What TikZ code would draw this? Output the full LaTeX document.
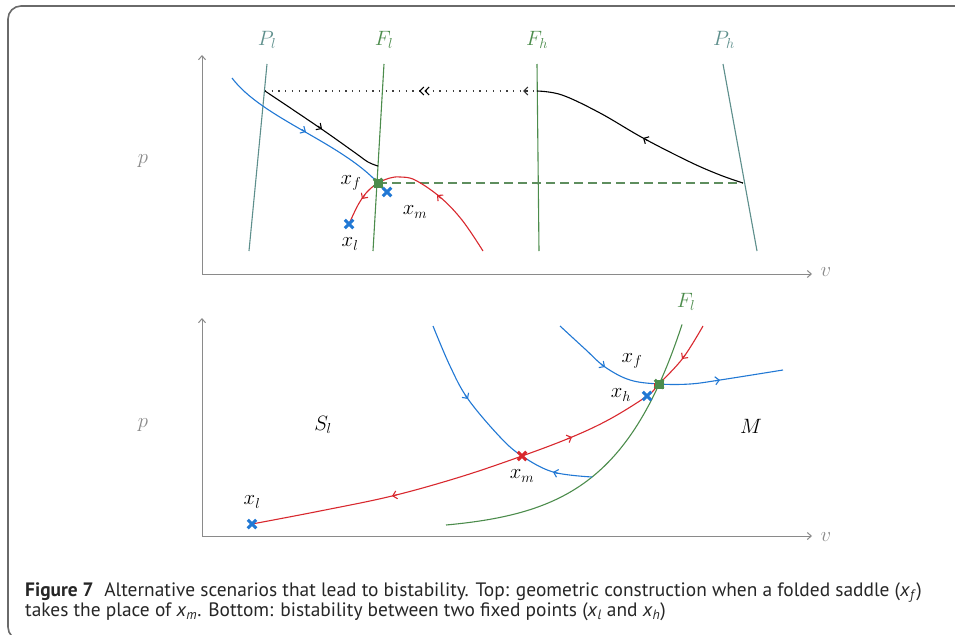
\documentclass[tikz,border=0pt]{standalone}
\usepackage{fontspec}
\setsansfont{PT Sans}
\usetikzlibrary{arrows.meta,shapes.misc}
\definecolor{cblue}{HTML}{2178D4}
\definecolor{cred}{HTML}{D8282E}
\definecolor{cgreen}{HTML}{4C8C4C}
\definecolor{cdash}{HTML}{5E8E5E}
\definecolor{cteal}{HTML}{5E8F8C}
\definecolor{caxis}{HTML}{8A8A8A}
\definecolor{cframe}{HTML}{6A6A6A}
\newcommand\flowtip[3]{\draw[line width=1.1pt, #1, -{Straight Barb[length=4pt,width=8pt]}] (#2) ++(#3+180:5) -- ++(#3:5);}
\newcommand\flowtipdd[3]{\draw[line width=1.1pt, #1, -{Straight Barb[length=4pt,width=8pt] Straight Barb[length=4pt,width=8pt]}] (#2) ++(#3+180:0.5) -- ++(#3:0.5);}
\tikzset{
  axisline/.style={draw=caxis, line width=1pt, -{Straight Barb[length=4pt,width=7pt]}},
  curve/.style={line width=1.1pt},
  vline/.style={line width=1.1pt},
  lab/.style={font=\huge, inner sep=0pt},
  glab/.style={lab, text=caxis},
  xmk/.style={cross out, draw=#1, line width=3pt, minimum size=5.5pt, inner sep=0pt},
  fmk/.style={rectangle, fill=cgreen, minimum size=9pt, inner sep=0pt},
  captxt/.style={font=\sffamily\fontsize{19.4}{22}\selectfont, inner sep=0pt, text=black!85},
}
\begin{document}
\begin{tikzpicture}[x=1pt,y=-1pt]
\useasboundingbox (0,0) rectangle (955,634);
\begin{scope}
\clip (0,0) rectangle (955,634);
\draw[cframe, line width=1.6pt, rounded corners=13pt] (8,640) rectangle (975,6);
\end{scope}

% ---------------- top panel ----------------
\coordinate (ta0) at (202,274);
\coordinate (tay) at (202,55);
\coordinate (tax) at (812,274);
\draw[axisline] (ta0) -- (tay);
\draw[axisline] (ta0) -- (tax);
\node[glab] (tp) at (143,161) {$p$};
\node[glab] (tv) at (826,272) {$v$};

\coordinate (Plt) at (267,64); \coordinate (Plb) at (249,251);
\coordinate (Flt) at (384,64); \coordinate (Flb) at (373,251);
\coordinate (Fht) at (537,64); \coordinate (Fhb) at (539,251);
\coordinate (Pht) at (723,64); \coordinate (Phb) at (757,251);
\draw[vline, cteal] (Plt) -- (Plb);
\draw[vline, cgreen] (Flt) -- (Flb);
\draw[vline, cgreen] (Fht) -- (Fhb);
\draw[vline, cteal] (Pht) -- (Phb);
\node[lab, text=cteal] (Pl) at (267,40) {$P_l$};
\node[lab, text=cgreen] (Fl) at (384,40) {$F_l$};
\node[lab, text=cgreen] (Fh) at (537,40) {$F_h$};
\node[lab, text=cteal] (Ph) at (724,40) {$P_h$};

\coordinate (A) at (265,91);
\coordinate (B) at (537,91);
\coordinate (C) at (743,183);
\coordinate (XF) at (378,183);
\coordinate (BS) at (232,78);
\coordinate (XMt) at (387,192);

\draw[black!75, line width=1.3pt, dash pattern=on 1.3pt off 5.4pt] (A) -- (B);
\flowtipdd{black}{419,91}{180}
\flowtip{black!80}{523,91}{180}
\draw[line width=1.1pt, cdash, dash pattern=on 9pt off 5pt] (XF) -- (C);
\draw[curve, black] plot[smooth, tension=0.6] coordinates {(537,91) (562,95) (600,113) (643,138) (690,162) (720,175) (743,183)};
\flowtip{black}{643,138}{208.6}
\draw[curve, black] plot[smooth, tension=0.6] coordinates {(265,91) (320,128) (354,152) (368,162) (378,166)};
\flowtip{black}{322,129}{34}
\draw[curve, cblue] (BS) .. controls (262,118) and (340,142) .. (XF) -- (383,189) -- (XMt);
\flowtip{cblue}{306,132}{30}
\draw[curve, cred] plot[smooth, tension=0.6] coordinates {(349,224) (358,205) (367,192) (378,183) (390,178) (400,177) (415,180) (440,197) (462,220) (483,251)};
\flowtip{cred}{362,199}{124.7}
\flowtip{cred}{437,195}{220.4}

\node[xmk=cblue] (txl) at (349,224) {};
\node[xmk=cblue] (txm) at (XMt) {};
\node[fmk] (txfs) at (XF) {};
\node[xmk=cgreen] (txf) at (XF) {};
\node[lab] (lxf) at (351,183) {$x_f$};
\node[lab] (lxm) at (415,212) {$x_m$};
\node[lab] (lxl) at (350,244) {$x_l$};

% ---------------- bottom panel ----------------
\coordinate (ba0) at (202,536);
\coordinate (bay) at (202,318);
\coordinate (bax) at (812,536);
\draw[axisline] (ba0) -- (bay);
\draw[axisline] (ba0) -- (bax);
\node[glab] (bp) at (143,425) {$p$};
\node[glab] (bv) at (826,537) {$v$};

\draw[curve, cgreen] plot[domain=446:682, samples=80] (\x, {536-4.85-6.15*exp(0.0149*(\x-446))});
\draw[curve, cblue] plot[smooth, tension=0.6] coordinates {(433,326) (450,366) (468,399) (500,437) (522,456) (553,472) (592,477)};
\flowtip{cblue}{468,399}{54.8}
\flowtip{cblue}{553,472}{196.7}
\draw[curve, cblue] plot[smooth, tension=0.6] coordinates {(560,326) (585,349) (605,367) (630,380) (659,384) (690,384) (720,380) (783,370)};
\flowtip{cblue}{605,367}{34.6}
\flowtip{cblue}{720,380}{-8.6}
\draw[curve, cred] plot[smooth, tension=0.6] coordinates {(252,524) (320,511) (392,496) (460,477) (522,456) (572,437) (610,419) (647,396) (659,384) (683,358) (703,326)};
\flowtip{cred}{392,496}{166.4}
\flowtip{cred}{572,437}{-22.8}
\flowtip{cred}{654,389}{135}
\flowtip{cred}{682,359}{127}

\node[xmk=cblue] (bxl) at (252,524) {};
\node[xmk=cred] (bxm) at (522,456) {};
\node[xmk=cblue] (bxh) at (647,396) {};
\node[fmk] (bxfs) at (659,384) {};
\node[xmk=cgreen] (bxf) at (659,384) {};

\node[lab] (bSl) at (323,425) {$S_l$};
\node[lab] (bM) at (751,426) {$M$};
\node[lab, text=cgreen] (bFl) at (686,302) {$F_l$};
\node[lab] (blxl) at (252,502) {$x_l$};
\node[lab] (blxm) at (522,476) {$x_m$};
\node[lab] (blxf) at (632,361) {$x_f$};
\node[lab] (blxh) at (621,395) {$x_h$};

% ---------------- caption ----------------
\node[captxt, anchor=base west] (cap1) at (25,596) {\textbf{Figure 7}\hspace{0.55em}Alternative scenarios that lead to bistability. Top: geometric construction when a folded saddle (\textit{x}\textsubscript{\textit{f}})};
\node[captxt, anchor=base west] (cap2) at (25,616) {takes the place of \textit{x}\textsubscript{\textit{m}}. Bottom: bistability between two fixed points (\textit{x}\textsubscript{\textit{l}} and \textit{x}\textsubscript{\textit{h}})};
\end{tikzpicture}
\end{document}
